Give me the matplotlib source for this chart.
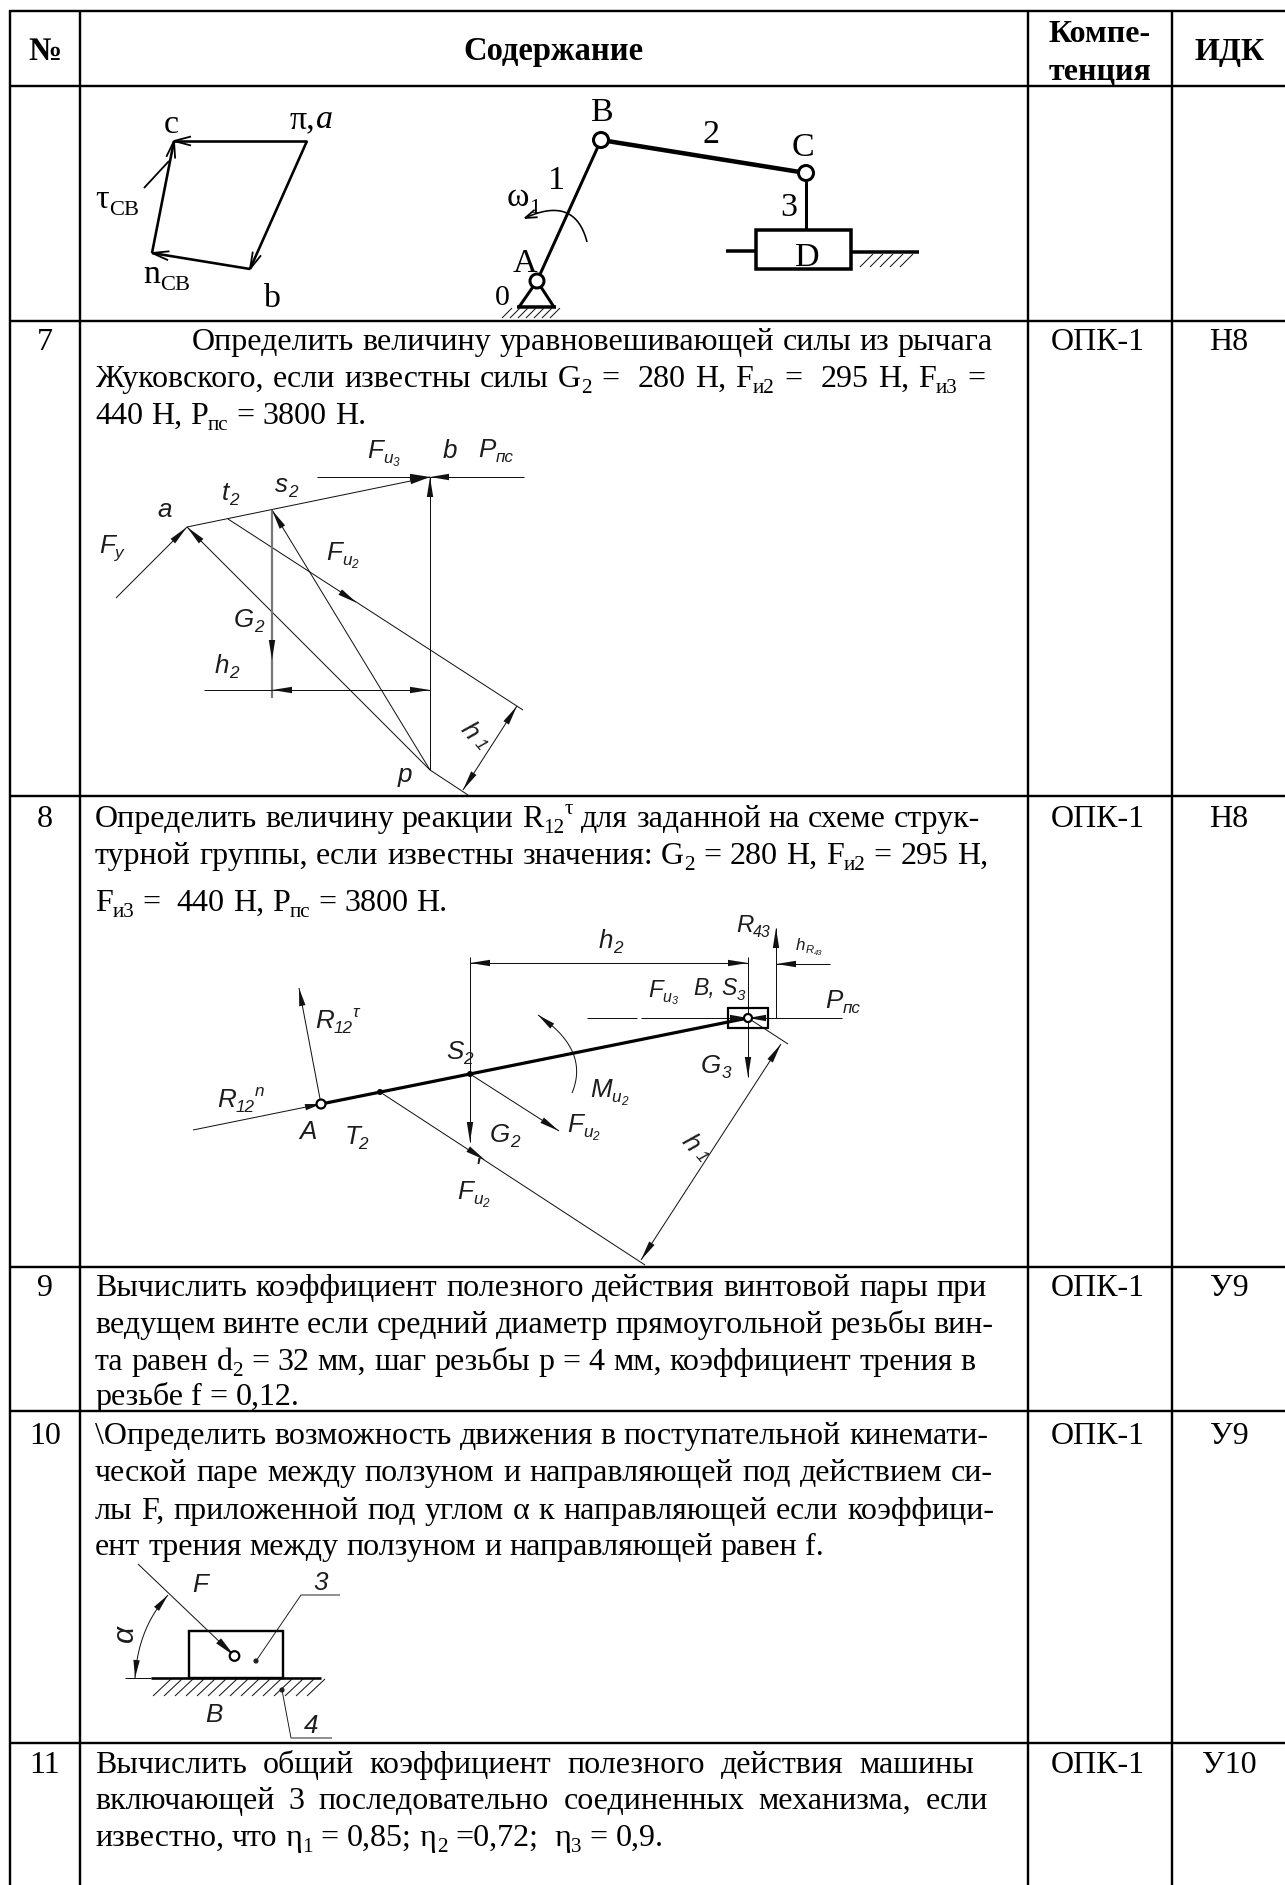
import re
import numpy as np
import matplotlib
matplotlib.use("Agg")
import matplotlib.pyplot as plt
from matplotlib import font_manager as fm
from matplotlib.font_manager import FontProperties as FP
from matplotlib.patches import Polygon, Circle, Rectangle

# ---------- table content ----------
HEADERS = ["№", "Содержание", "ИДК"]
HEADER_COMP = ["Компе-", "тенция"]
ROW_NUMBERS = ["7", "8", "9", "10", "11"]
ROW_COMPETENCE = ["ОПК-1", "ОПК-1", "ОПК-1", "ОПК-1", "ОПК-1"]
ROW_IDK = ["Н8", "Н8", "У9", "У9", "У10"]
TEXT_7 = ["Определить величину уравновешивающей силы из рычага",
          "Жуковского, если известны силы G_{2} =  280 Н, F_{и2} =  295 Н, F_{и3} =",
          "440 Н, P_{пс} = 3800 Н."]
TEXT_8 = ["Определить величину реакции R_{12}^{τ} для заданной на схеме струк-",
          "турной группы, если известны значения: G_{2} = 280 Н, F_{и2} = 295 Н,",
          "F_{и3} =  440 Н, P_{пс} = 3800 Н."]
TEXT_9 = ["Вычислить коэффициент полезного действия винтовой пары при",
          "ведущем винте если средний диаметр прямоугольной резьбы вин-",
          "та равен d_{2} = 32 мм, шаг резьбы р = 4 мм, коэффициент трения в",
          "резьбе f = 0,12."]
TEXT_10 = ["\\Определить возможность движения в поступательной кинемати-",
           "ческой паре между ползуном и направляющей под действием си-",
           "лы F, приложенной под углом α к направляющей если коэффици-",
           "ент трения между ползуном и направляющей равен f."]
TEXT_11 = ["Вычислить общий коэффициент полезного действия машины",
           "включающей 3 последовательно соединенных механизма, если",
           "известно, что η_{1} = 0,85; η_{2} =0,72;  η_{3} = 0,9."]

W, H = 1285, 1885
fig = plt.figure(figsize=(W / 100, H / 100), dpi=100, facecolor="white")
ax = fig.add_axes([0, 0, 1, 1])
ax.set_xlim(0, W)
ax.set_ylim(H, 0)
ax.axis("off")
rend = fig.canvas.get_renderer()
PX = 72 / 100

names = {f.name for f in fm.fontManager.ttflist}
SERIF = "Liberation Serif"
GOST = "Liberation Sans Narrow" if "Liberation Sans Narrow" in names else "Liberation Sans"
BODY = 32


def meas(s, fp):
    a = rend.get_text_width_height_descent("a" + s + "a", fp, False)[0]
    b = rend.get_text_width_height_descent("aa", fp, False)[0]
    return a - b


def parse(s):
    out = []
    for part in re.split(r"(_\{[^}]*\}|\^\{[^}]*\}|~\{[^}]*\}|\*\{[^}]*\})", s):
        if not part:
            continue
        if part[1:2] == "{" and part[0] in "_^~*":
            out.append((part[2:-1], part[0]))
        else:
            out.append((part, ""))
    return out


def rich(x, y, s, size=BODY, x1=None, family=SERIF, style="normal", weight="normal",
         color="black", rot=0):
    """Draw a line at baseline y; if x1 given, stretch spaces so it ends at x1."""
    SC = {"": (1, 0), "_": (.66, .2), "^": (.66, -.42), "~": (.45, .3), "*": (1, 0)}
    items = []
    for txt, kind in parse(s):
        sc, dy = SC[kind]
        st = "italic" if kind == "*" else style
        fp = FP(family=family, style=st, weight=weight, size=size * sc * PX)
        for w in re.split(r"( +)", txt):
            if w:
                items.append((w, fp, dy * size, w.strip() == "", meas(w, fp)))
    nat = sum(i[4] for i in items)
    nsp = sum(len(i[0]) for i in items if i[3])
    extra = (x1 - x - nat) / nsp if (x1 is not None and nsp) else 0
    c, sn = np.cos(np.radians(rot)), np.sin(np.radians(rot))
    d = 0
    for w, fp, dy, is_sp, wd in items:
        if is_sp:
            d += wd + extra * len(w)
            continue
        ax.text(x + d * c - dy * sn, y - d * sn + dy * c, w, fontproperties=fp, ha="left",
                va="baseline", color=color, rotation=rot, rotation_mode="anchor")
        d += wd


def center(x, y, s, size=BODY, **k):
    fp = FP(family=k.get("family", SERIF), weight=k.get("weight", "normal"), size=size * PX)
    ax.text(x, y, s, fontproperties=fp, ha="center", va="baseline", color="black")


def gl(x, y, s, size=26, rot=0, color="#1c1c1c"):
    rich(x, y, s, size=size, family=GOST, style="italic", color=color, rot=rot)


def line(pts, lw=1.0, color="#111111", z=2):
    p = np.array(pts, float)
    ax.plot(p[:, 0], p[:, 1], color=color, lw=lw * PX, solid_capstyle="butt",
            solid_joinstyle="miter", zorder=z)


def head(tip, frm, L=20, hw=3.2, color="#111111"):
    tip = np.array(tip, float)
    frm = np.array(frm, float)
    u = (tip - frm) / np.hypot(*(tip - frm))
    n = np.array([-u[1], u[0]])
    b = tip - u * L
    ax.add_patch(Polygon([tip, b + n * hw, b - n * hw], closed=True, fc=color, ec="none", zorder=3))


def barb(tip, frm, L=17, hw=4.5, lw=1.8):
    tip = np.array(tip, float)
    frm = np.array(frm, float)
    u = (tip - frm) / np.hypot(*(tip - frm))
    n = np.array([-u[1], u[0]])
    b = tip - u * L
    line([b + n * hw, tip, b - n * hw], lw=lw, color="black")


def arrow(a, b, lw=1.0, **k):
    line([a, b], lw=lw)
    head(b, a, **k)


def hatch(x0, x1, y0, y1, step=9, lw=1.0):
    for x in np.arange(x0, x1, step):
        line([(x, y1), (x + (y1 - y0), y0)], lw=lw)


def bez(p0, p1, p2, n=40):
    t = np.linspace(0, 1, n)[:, None]
    return (1 - t) ** 2 * np.array(p0, float) + 2 * t * (1 - t) * np.array(p1, float) + t ** 2 * np.array(p2, float)


# ---------- table ----------
TL = 2.4
for yy in (11, 86, 321, 796, 1267, 1411, 1743):
    line([(9, yy), (W, yy)], lw=TL, color="black")
for xx in (10, 80, 1028, 1172):
    line([(xx, 10), (xx, H)], lw=TL, color="black")

center(45, 60, HEADERS[0], size=33, weight="bold")
center(553, 60, HEADERS[1], size=32.6, weight="bold")
center(1230, 60, HEADERS[2], size=32, weight="bold")
center(1100, 42, HEADER_COMP[0], size=32, weight="bold")
center(1100, 79, HEADER_COMP[1], size=32, weight="bold")

ROW_BASE = [350, 827, 1296, 1444, 1773]
for yb, n, c, d in zip(ROW_BASE, ROW_NUMBERS, ROW_COMPETENCE, ROW_IDK):
    center(45, yb, n)
    center(1098, yb, c)
    center(1229, yb, d)

LX = 95
rich(192, 350, TEXT_7[0], x1=993)
rich(LX, 387, TEXT_7[1], x1=985)
rich(LX, 424, TEXT_7[2])
rich(LX, 827, TEXT_8[0], x1=980)
rich(LX, 864, TEXT_8[1], x1=988)
rich(LX, 911, TEXT_8[2])
for yb, s, xe in zip((1296, 1333, 1370, 1405), TEXT_9, (987, 993, 976, None)):
    rich(LX, yb, s, x1=xe)
for yb, s, xe in zip((1444, 1481, 1519, 1555), TEXT_10, (988, 993, 994, None)):
    rich(LX, yb, s, x1=xe)
for yb, s, xe in zip((1773, 1809, 1846), TEXT_11, (974, 988, None)):
    rich(LX, yb, s, x1=xe)

# ---------- drawing 1: acceleration polygon ----------
pi_, c_, n_, b_ = (307, 141), (174, 141), (152, 253), (250, 269)
for s, e in ((pi_, c_), (n_, c_), (b_, n_), (pi_, b_)):
    line([s, e], lw=2.6, color="black")
    barb(e, s)
line([(144, 188), (169, 161)], lw=1.8, color="black")
rich(164, 133, "c", size=34)
rich(290, 128, "π,*{a}", size=34)
rich(95, 208, "τ_{СВ}", size=34)
rich(143, 283, "n_{СВ}", size=34)
rich(263, 307, "b", size=34)

# ---------- drawing 1: mechanism ----------
A, B, C = (537, 281), (601, 140), (806, 173)
line([A, B], lw=3, color="black")
line([B, C], lw=4.5, color="black")
line([C, (806, 230)], lw=3, color="black")
ax.add_patch(Rectangle((756, 230), 95, 39, fc="white", ec="black", lw=3.5 * PX, zorder=3))
line([(726, 251), (756, 251)], lw=3.5, color="black")
line([(851, 252), (919, 252)], lw=3.5, color="black")
hatch(860, 905, 254, 267, step=10)
line([A, (519, 307)], lw=3, color="black")
line([A, (554, 307)], lw=3, color="black")
line([(517, 307), (556, 307)], lw=3.5, color="black")
hatch(502, 552, 308, 318, step=8)
for p, r in ((A, 7), (B, 7.5), (C, 7.5)):
    ax.add_patch(Circle(p, r, fc="white", ec="black", lw=3 * PX, zorder=4))
arc = bez((587, 242), (575, 195), (525, 218))
line(arc, lw=1.6, color="black")
barb(arc[-1], arc[-5], L=12, hw=4)
rich(591, 121, "B", size=34)
rich(702, 143, "2", size=34)
rich(792, 156, "C", size=34)
rich(548, 189, "1", size=34)
rich(507, 206, "ω_{1}", size=34)
rich(780, 216, "3", size=34)
rich(795, 266, "D", size=34)
rich(513, 272, "A", size=34)
rich(495, 305, "0", size=30)

# ---------- drawing 2: Zhukovsky lever ----------
a2, b2, s2, t2, p2 = (187, 527), (430, 477), (272, 510), (228, 519), (430, 770)
arrow((116, 598), a2)
arrow(p2, a2)
arrow(p2, s2)
arrow(p2, b2)
arrow(a2, b2)
arrow((317, 477), b2)
line([(524, 477), b2])
head(b2, (524, 477), L=19)
line([t2, (523, 710)])
head((357, 603), t2)
line([s2, (272, 698)], lw=2.2, color="#777777")
head((272, 660), s2)
line([(204, 690), (430, 690)])
head((272, 690), (430, 690))
head((430, 690), (204, 690))
line([p2, (468, 795)])
h1a, h1b = (463, 790), (517, 706)
line([h1a, h1b])
head(h1a, h1b)
head(h1b, h1a)
gl(367, 458, "F_{и}~{3}")
gl(443, 458, "b")
gl(478, 457, "P_{пс}")
gl(222, 500, "t_{2}")
gl(275, 492, "s_{2}")
gl(157, 517, "a")
gl(99, 553, "F_{y}")
gl(326, 560, "F_{и}~{2}")
gl(234, 627, "G_{2}")
gl(215, 673, "h_{2}")
gl(460, 730, "h_{1}", rot=-50)
gl(398, 782, "p")

# ---------- drawing 3: structural group ----------
A3, B3, S3, T3 = (321, 1104), (748, 1018), (470, 1074), (380, 1092)
line([A3, B3], lw=3.2, color="black")
arrow((193, 1130), A3, L=16)
arrow(A3, (299, 988), L=18)
ax.add_patch(Circle(A3, 4.5, fc="white", ec="black", lw=2.2 * PX, zorder=4))
for p in (S3, T3):
    ax.add_patch(Circle(p, 3, fc="black", ec="none", zorder=4))
ax.add_patch(Rectangle((728, 1008), 40, 20, fc="none", ec="black", lw=2.2 * PX, zorder=4))
ax.add_patch(Circle(B3, 4, fc="white", ec="black", lw=2.2 * PX, zorder=5))
line([(587, 1018), (637, 1018)])
line([(641, 1018), B3])
head(B3, (587, 1018), L=18)
line([(842, 1018), B3])
head(B3, (842, 1018), L=18)
arrow((748, 957), (748, 1077))
arrow((470, 957), (470, 1142))
line([(470, 963), (748, 963)])
head((470, 963), (748, 963))
head((748, 963), (470, 963))
arrow((776, 1018), (776, 928))
line([(776, 964), (830, 964)])
head((776, 964), (830, 964))
arrow(S3, (559, 1131))
line([T3, (645, 1265)])
head((485, 1160), T3)
line([B3, (788, 1044)])
ha3, hb3 = (641, 1260), (781, 1044)
line([ha3, hb3])
head(ha3, hb3)
head(hb3, ha3)
mu = bez((572, 1093), (590, 1050), (538, 1015))
line(mu)
head(mu[-1], mu[-8], L=18)
gl(736, 932, "R_{43}", size=24)
gl(599, 948, "h_{2}")
gl(796, 950, "h_{R}~{43}", size=17)
gl(648, 997, "F_{и}~{3}", size=24)
gl(693, 995, "B, S_{3}", size=23)
gl(825, 1008, "P_{пс}")
gl(315, 1028, "R_{12}^{τ}")
gl(446, 1059, "S_{2}")
gl(701, 1073, "G_{3}")
gl(590, 1097, "M_{и}~{2}")
gl(217, 1107, "R_{12}^{n}")
gl(299, 1139, "A")
gl(345, 1144, "T_{2}")
gl(490, 1142, "G_{2}")
gl(567, 1132, "F_{и}~{2}")
gl(457, 1199, "F_{и}~{2}")
gl(474, 1176, "'")
gl(681, 1142, "h_{1}", rot=-50)

# ---------- drawing 4: slider ----------
ax.add_patch(Rectangle((189, 1631), 94, 47, fc="white", ec="black", lw=2.4 * PX, zorder=2))
line([(151, 1678), (321, 1678)], lw=2.6, color="black", z=3)
line([(125, 1678), (151, 1678)])
for x in np.arange(153, 318, 11):
    line([(x, 1696), (x + 18, 1679)])
c4 = (234.5, 1656)
arrow((138, 1564), c4, L=22, hw=3.5)
ax.add_patch(Circle(c4, 4.8, fc="white", ec="black", lw=2.2 * PX, zorder=4))
line([(256, 1661), (301, 1595), (340, 1595)], lw=0.9)
line([(282, 1690), (291, 1738), (332, 1738)], lw=0.9)
for p in ((256, 1661), (282, 1690)):
    ax.add_patch(Circle(p, 2.6, fc="#222222", ec="none", zorder=4))
al = bez((168, 1595), (138, 1628), (135, 1678))
line(al)
head(al[0], al[5], L=18)
head(al[-1], al[-5], L=18)
gl(192, 1592, "F")
gl(313, 1590, "3")
gl(205, 1722, "B")
gl(304, 1733, "4")
gl(133, 1642, "α", size=30, rot=90)

fig.savefig("out.png", dpi=100, facecolor="white")
